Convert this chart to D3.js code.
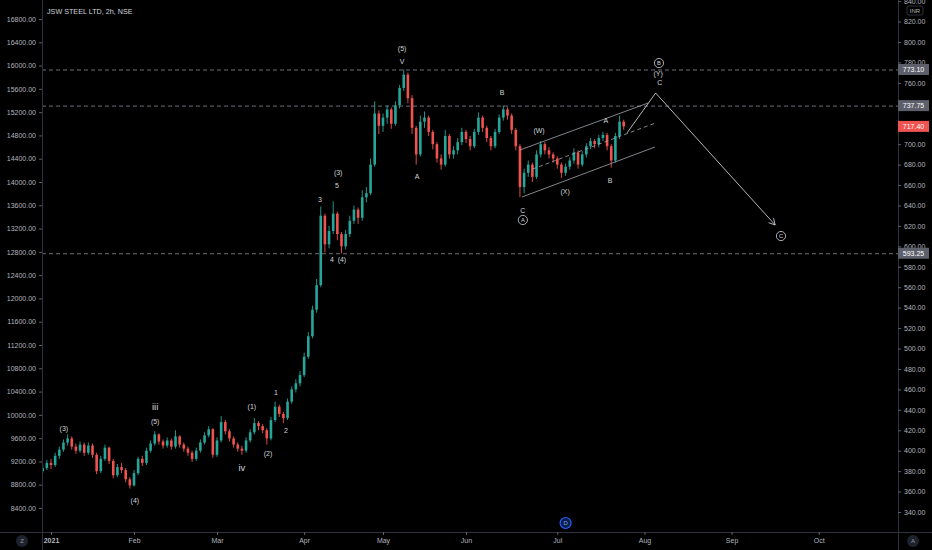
<!DOCTYPE html>
<html>
<head>
<meta charset="utf-8">
<script src="https://cdn.jsdelivr.net/npm/d3@7"></script>
<style>
  html, body { margin: 0; padding: 0; background: #000; }
  svg { display: block; font-family: "Liberation Sans", Arial, sans-serif; }
</style>
</head>
<body>
<script>
// JSW STEEL LTD, 2h, NSE (one bar per trading day)
var firstOpen = 380;
var startIdx = -2;   // bar index of the first candle (late Dec 2020)

var closes = [
  383,388,386,395,401,408,412,404,400,406,
  398,405,396,380,392,403,390,376,384,381,
  372,366,378,392,388,400,407,416,409,405,
  410,404,414,406,402,398,392,400,408,415,
  421,396,410,428,419,412,406,402,400,410,
  418,427,424,420,412,430,443,436,432,448,
  460,466,474,492,512,538,562,630,602,615,
  632,612,600,612,625,636,628,648,652,680,
  730,718,726,734,720,738,755,768,745,716,
  690,722,726,712,700,686,680,708,690,694,
  702,712,705,698,712,726,716,706,698,712,
  726,734,728,714,698,658,672,680,668,690,
  700,694,690,686,680,672,678,684,692,680,
  690,698,703,700,706,709,698,684,708,722,
  717.4
];
var highs = [
  387,391,392,398,404,411,416,414,407,409,
  408,408,407,398,395,406,404,392,387,388,
  383,374,381,394,395,403,410,419,417,411,
  413,412,420,415,408,404,400,403,411,418,
  424,422,413,434,430,421,414,408,405,413,
  421,432,429,426,422,433,448,445,438,451,
  463,470,478,496,516,542,568,639,632,620,
  644,634,614,616,630,640,638,655,658,686,
  742,733,730,738,736,742,758,773,770,748,
  718,728,732,728,714,702,690,714,710,698,
  706,716,714,708,715,731,728,718,708,715,
  729,738,736,730,716,700,676,684,682,694,
  703,702,697,692,688,682,681,687,696,694,
  693,701,706,705,709,712,711,700,711,728,
  724
];
var lows = [
  378,381,382,384,392,399,405,401,397,398,
  395,396,393,377,378,390,387,373,374,378,
  369,363,365,376,385,386,398,405,406,402,
  403,401,402,403,399,395,389,390,398,406,
  413,393,394,408,416,409,403,399,396,398,
  408,416,420,417,406,410,428,433,427,430,
  446,457,463,472,490,510,535,560,594,598,
  612,606,593,597,609,622,622,625,643,650,
  678,710,712,720,715,718,735,752,740,710,
  680,688,716,708,695,682,675,678,686,686,
  690,699,701,694,696,709,712,702,694,696,
  710,723,724,710,694,648,652,668,663,666,
  687,690,686,682,676,667,669,675,681,676,
  678,687,695,696,697,703,694,677,682,705,
  714
];

// time axis: bar index of the first session of each month
var monthIdx = [0, 20, 40, 61, 80, 100, 122, 143, 164, 185];
var monthLabels = ["2021","Feb","Mar","Apr","May","Jun","Jul","Aug","Sep","Oct"];

// price axes (720 and 740 sit under the price tags, so they are not shown)
var rightTicks = [340,360,380,400,420,440,460,480,500,520,540,560,580,600,620,640,660,680,700,760,780,800,820,840];
var leftTicks = [8400,8800,9200,9600,10000,10400,10800,11200,11600,12000,12400,12800,13200,13600,14000,14400,14800,15200,15600,16000,16400,16800];

// horizontal levels and last price
var levels = [773.10, 737.75, 593.25];
var lastPrice = 717.40;

// drawings: [bar index, price]
var channelUpper = [[113, 694.3], [143.9, 740.3]];
var channelLower = [[113.5, 648.3], [145.5, 697.2]];
var channelMid = [[116, 675.6], [145.5, 720.5]];
var projection = [[138.8, 711], [145.7, 750.1], [174.5, 620.9]];

// wave labels: text, bar index, price, kind (s = small, r = roman, c = circled)
var waveText = ["(3)","iii","(5)","(4)","iv","(1)","(2)","1","2","3","(3)","5","4","(4)","(5)","V","A","B","C","A","(W)","(X)","A","B","B","(Y)","C","C"];
var waveIdx = [3.1,25.1,25.1,20.2,46.0,48.4,52.3,54.2,56.6,64.8,69.2,68.9,67.7,70.1,84.6,84.6,88.2,108.7,113.7,113.7,117.6,123.9,133.7,134.7,146.5,146.3,146.7,175.9];
var wavePrice = [422.2,442.8,428.1,351.7,383.1,442.8,396.8,457.4,420.2,646.3,671.8,659.1,587.6,587.6,794.1,781.4,667.9,750.1,634.6,625.8,712.9,653.2,722.7,664.0,779.4,768.7,759.9,610.1];
var waveKind = ["s","r","s","s","r","s","s","s","s","s","s","s","s","s","s","s","s","s","s","c","s","s","s","s","c","s","s","c"];

var dividendIdx = 124;

var W = 932, H = 550;
var left = 42, right = 898, bottom = 532;
var axisColor = "#2f323b", textColor = "#b2b5be", drawColor = "#a3a6af";
var upColor = "#26a69a", downColor = "#ef5350";

var svg = d3.select("body").append("svg").attr("width", W).attr("height", H);
svg.append("rect").attr("width", W).attr("height", H).attr("fill", "#000");

var x = d3.scaleLinear().domain([0, 185]).range([51, 818.75]);
var yR = d3.scaleLinear().domain([340, 800]).range([512, 42]);
var yL = d3.scaleLinear().domain([8400, 16800]).range([508, 19]);

svg.append("clipPath").attr("id", "plotclip")
  .append("rect").attr("x", left).attr("y", 0).attr("width", right - left).attr("height", bottom);

var bars = closes.map(function (c, k) {
  return { i: startIdx + k, o: k ? closes[k - 1] : firstOpen, h: highs[k], l: lows[k], c: c };
});

var plot = svg.append("g").attr("clip-path", "url(#plotclip)");

// horizontal levels
plot.selectAll(".level").data(levels).enter().append("line")
  .attr("x1", left).attr("x2", right)
  .attr("y1", function (d) { return yR(d) + 0.5; })
  .attr("y2", function (d) { return yR(d) + 0.5; })
  .attr("stroke", "#8a8d96").attr("stroke-width", 0.8).attr("stroke-dasharray", "4,3");

// candles
var cw = 2.6;
var candle = plot.selectAll(".candle").data(bars).enter().append("g");
candle.append("line")
  .attr("x1", function (d) { return x(d.i); })
  .attr("x2", function (d) { return x(d.i); })
  .attr("y1", function (d) { return yR(d.h); })
  .attr("y2", function (d) { return yR(d.l); })
  .attr("stroke", function (d) { return d.c >= d.o ? upColor : downColor; })
  .attr("stroke-width", 0.9);
candle.append("rect")
  .attr("x", function (d) { return x(d.i) - cw / 2; })
  .attr("width", cw)
  .attr("y", function (d) { return yR(Math.max(d.o, d.c)); })
  .attr("height", function (d) { return Math.max(0.8, Math.abs(yR(d.o) - yR(d.c))); })
  .attr("fill", function (d) { return d.c >= d.o ? upColor : downColor; });

// channel
var line = d3.line().x(function (d) { return x(d[0]); }).y(function (d) { return yR(d[1]); });
plot.append("path").attr("d", line(channelUpper)).attr("fill", "none").attr("stroke", drawColor).attr("stroke-width", 0.8);
plot.append("path").attr("d", line(channelLower)).attr("fill", "none").attr("stroke", drawColor).attr("stroke-width", 0.8);
plot.append("path").attr("d", line(channelMid)).attr("fill", "none").attr("stroke", drawColor)
  .attr("stroke-width", 0.8).attr("stroke-dasharray", "4,3");

// projected path with arrow head
plot.append("path").attr("d", line(projection)).attr("fill", "none").attr("stroke", "#c8cad0").attr("stroke-width", 0.9);
var p1 = projection[projection.length - 2], p2 = projection[projection.length - 1];
var ax = x(p2[0]), ay = yR(p2[1]);
var ang = Math.atan2(ay - yR(p1[1]), ax - x(p1[0]));
[-0.5, 0.5].forEach(function (da) {
  plot.append("line")
    .attr("x1", ax).attr("y1", ay)
    .attr("x2", ax - 7 * Math.cos(ang + da)).attr("y2", ay - 7 * Math.sin(ang + da))
    .attr("stroke", "#c8cad0").attr("stroke-width", 0.9);
});

// wave labels
waveText.forEach(function (t, k) {
  var cx = x(waveIdx[k]), cy = yR(wavePrice[k]);
  var kind = waveKind[k];
  if (kind === "c") {
    plot.append("circle").attr("cx", cx).attr("cy", cy).attr("r", 4.6)
      .attr("fill", "none").attr("stroke", "#d1d4dc").attr("stroke-width", 0.8);
  }
  plot.append("text").attr("x", cx).attr("y", cy)
    .attr("text-anchor", "middle").attr("dominant-baseline", "central")
    .attr("fill", "#d1d4dc")
    .attr("font-size", kind === "r" ? 9.5 : (kind === "c" ? 5.8 : 7))
    .text(t);
});

// separators
svg.append("line").attr("x1", left + 0.5).attr("x2", left + 0.5).attr("y1", 0).attr("y2", H).attr("stroke", axisColor);
svg.append("line").attr("x1", right + 0.5).attr("x2", right + 0.5).attr("y1", 0).attr("y2", H).attr("stroke", axisColor);
svg.append("line").attr("x1", 0).attr("x2", W).attr("y1", bottom + 0.5).attr("y2", bottom + 0.5).attr("stroke", axisColor);

function styleAxis(g) {
  g.select(".domain").remove();
  g.selectAll(".tick line").attr("stroke", "#5d606b");
  g.selectAll(".tick text").attr("fill", textColor).attr("font-size", 7)
    .attr("font-family", "\"Liberation Sans\", Arial, sans-serif");
}

svg.append("g").attr("transform", "translate(" + left + ",0)")
  .call(d3.axisLeft(yL).tickValues(leftTicks).tickSize(3).tickPadding(3).tickFormat(d3.format(".2f")))
  .call(styleAxis);

svg.append("g").attr("transform", "translate(" + right + ",0)")
  .call(d3.axisRight(yR).tickValues(rightTicks).tickSize(3).tickPadding(3).tickFormat(d3.format(".2f")))
  .call(styleAxis);

var xAxisG = svg.append("g").attr("transform", "translate(0," + bottom + ")")
  .call(d3.axisBottom(x).tickValues(monthIdx).tickSize(3).tickPadding(3)
    .tickFormat(function (d, k) { return monthLabels[k]; }))
  .call(styleAxis);
xAxisG.selectAll(".tick text").attr("font-weight", function (d, k) { return k === 0 ? "bold" : "normal"; });

// price tags on the right scale
function tag(v, fill) {
  var g = svg.append("g").attr("transform", "translate(" + right + "," + yR(v) + ")");
  g.append("rect").attr("x", 0).attr("y", -5.5).attr("width", 31).attr("height", 11).attr("fill", fill);
  g.append("text").attr("x", 15.5).attr("y", 0).attr("text-anchor", "middle").attr("dominant-baseline", "central")
    .attr("fill", "#fff").attr("font-size", 7).text(d3.format(".2f")(v));
}
levels.forEach(function (v) { tag(v, "#5d606b"); });
tag(lastPrice, "#ef5350");

// INR unit box
svg.append("rect").attr("x", 907).attr("y", 6).attr("width", 16).attr("height", 9).attr("rx", 2)
  .attr("fill", "#000").attr("stroke", "#434651").attr("stroke-width", 0.7);
svg.append("text").attr("x", 915).attr("y", 10.7).attr("text-anchor", "middle").attr("dominant-baseline", "central")
  .attr("fill", textColor).attr("font-size", 6).text("INR");

// title
svg.append("text").attr("x", 47).attr("y", 11).attr("dominant-baseline", "central")
  .attr("fill", "#d1d4dc").attr("font-size", 7.2).text("JSW STEEL LTD, 2h, NSE");

// dividend marker
var dv = svg.append("g").attr("transform", "translate(" + x(dividendIdx) + ",523)");
dv.append("circle").attr("r", 5.5).attr("fill", "#0b1d4d").attr("stroke", "#2962ff").attr("stroke-width", 1.2);
dv.append("text").attr("text-anchor", "middle").attr("dominant-baseline", "central")
  .attr("fill", "#7ea2ff").attr("font-size", 6).text("D");

// scale buttons
[["Z", 22], ["A", 913]].forEach(function (b) {
  svg.append("circle").attr("cx", b[1]).attr("cy", 541).attr("r", 6).attr("fill", "#1e222d");
  svg.append("text").attr("x", b[1]).attr("y", 541).attr("text-anchor", "middle").attr("dominant-baseline", "central")
    .attr("fill", "#9598a1").attr("font-size", 6).text(b[0]);
});
</script>
</body>
</html>
